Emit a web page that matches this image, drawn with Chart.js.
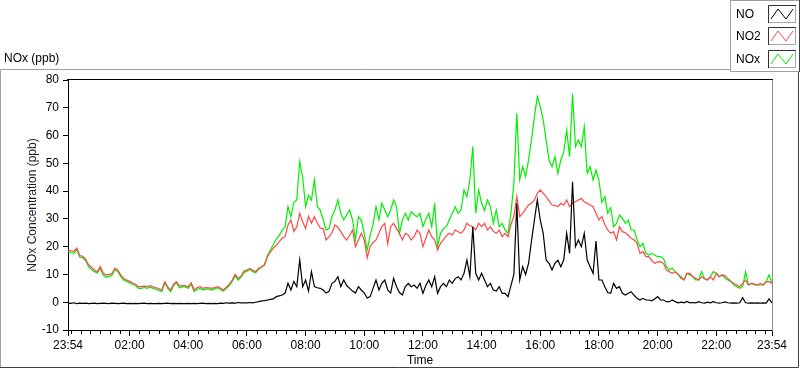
<!DOCTYPE html>
<html>
<head>
<meta charset="utf-8">
<script src="https://cdn.jsdelivr.net/npm/chart.js@4.4.1/dist/chart.umd.min.js"></script>
<style>
html,body{margin:0;padding:0;background:#fff;}
#wrap{position:relative;width:800px;height:369px;}
canvas{display:block;}
</style>
</head>
<body>
<div id="wrap"><canvas id="c" width="800" height="369"></canvas></div>
<script>
// ---- data (one sample every 6 minutes, starting 23:54) ----
const STEP_MIN = 6;
const seriesNames = ['NO', 'NO2', 'NOx'];
const seriesColors = ['#000000', '#ff4646', '#00f000'];

const NO = [
-0.3,-0.4,-0.2,-0.5,-0.3,-0.4,-0.3,-0.5,-0.4,-0.3,
-0.5,-0.4,-0.3,-0.4,-0.5,-0.3,-0.4,-0.5,-0.4,-0.3,
-0.5,-0.4,-0.5,-0.4,-0.5,-0.4,-0.3,-0.5,-0.4,-0.5,
-0.5,-0.4,-0.5,-0.4,-0.3,-0.5,-0.4,-0.5,-0.4,-0.5,
-0.5,-0.4,-0.5,-0.4,-0.5,-0.4,-0.3,-0.5,-0.4,-0.5,
-0.4,-0.5,-0.3,-0.4,-0.2,-0.3,-0.2,-0.3,-0.1,-0.2,
-0.2,
-0.2,-0.1,-0.2,0.0,0.2,0.5,0.6,0.8,1.0,1.2,
2.0,2.3,2.6,3.3,6.8,4.4,7.5,5.6,15.2,5.6,
8.0,4.0,11.0,5.6,5.2,5.0,4.4,3.3,3.9,6.8,
7.5,9.2,5.6,8.0,6.0,5.0,4.0,3.3,5.6,4.4,
3.3,1.5,2.0,5.0,8.0,4.4,6.8,8.0,4.4,3.3,
8.6,5.6,3.5,2.6,5.6,6.8,5.6,6.2,5.0,6.8,
3.2,6.0,8.0,5.6,9.2,3.2,5.6,6.8,5.6,8.0,
6.8,8.5,9.2,8.0,10.4,15.2,9.2,27.2,10.4,8.0,
10.4,8.0,5.6,6.8,4.4,4.0,5.6,3.2,3.2,2.0,
6.0,10.0,35.6,8.0,12.8,10.0,14.0,22.0,29.6,36.8,
29.6,24.8,15.2,14.0,11.6,14.0,15.2,12.8,15.2,24.8,
17.6,43.4,20.0,22.4,20.0,24.8,15.2,12.8,10.4,22.0,
8.0,8.0,5.6,3.5,3.2,6.8,5.0,5.6,3.2,2.6,
3.2,3.8,2.5,1.4,0.8,1.4,0.8,0.8,0.5,1.2,
2.0,0.8,0.8,0.2,0.2,0.8,0.2,-0.2,0.0,-0.2,
0.3,-0.2,-0.1,-0.2,0.2,-0.2,-0.3,0.0,-0.2,0.2,
-0.2,-0.3,-0.2,0.1,-0.2,-0.3,-0.2,-0.3,-0.2,1.6,
-0.2,-0.3,-0.2,-0.3,-0.2,-0.3,-0.2,-0.3,1.2,-0.3
];

const NO2 = [
18.8,18.5,18.3,19.5,16.8,16.5,15.5,13.5,12.5,11.6,
11.0,12.8,10.5,9.8,10.0,10.3,12.3,11.5,9.8,8.5,
8.0,7.5,6.9,6.5,5.6,5.6,5.8,5.6,6.0,5.5,
5.2,4.8,4.4,7.4,5.5,4.4,6.5,7.4,5.8,6.0,
6.0,5.5,7.0,4.4,5.2,5.6,5.0,5.3,5.2,5.0,
5.3,5.6,5.0,4.4,5.5,6.5,8.0,10.0,8.6,9.5,
11.2,
11.6,12.2,11.5,11.0,12.2,12.8,13.4,16.4,18.0,19.5,
20.5,21.8,23.0,23.6,27.8,29.6,25.5,27.2,32.0,29.0,
26.5,31.0,28.4,30.8,28.5,26.7,26.5,22.4,23.6,25.0,
27.8,27.0,25.4,23.6,22.4,24.0,26.0,20.0,22.4,24.8,
22.4,16.0,20.0,21.5,22.4,24.8,27.2,28.4,21.0,27.2,
28.4,26.5,24.8,22.4,24.8,24.2,22.4,23.6,26.0,24.8,
20.0,23.0,26.0,23.6,22.4,18.8,21.2,22.5,24.0,24.8,
24.2,26.0,25.4,24.8,26.0,28.4,27.5,27.2,26.0,28.4,
27.2,28.4,26.0,27.2,25.5,24.8,26.0,23.6,24.8,23.6,
28.0,31.0,38.0,30.8,32.0,33.5,35.0,35.6,36.8,39.2,
40.4,39.2,38.0,36.5,35.0,34.8,34.4,35.6,35.0,36.8,
34.4,35.6,36.2,36.8,37.4,36.2,35.6,35.0,34.4,32.0,
29.6,30.8,28.0,26.0,24.8,25.4,22.4,27.2,25.4,25.0,
24.0,23.0,22.4,21.2,17.6,18.2,16.4,16.4,15.0,14.0,
14.5,14.6,14.0,11.6,11.0,10.4,11.0,10.0,8.6,8.0,
10.4,10.4,9.2,8.6,8.0,9.2,8.5,8.0,9.2,8.0,
10.4,9.2,9.8,9.5,8.5,7.5,6.8,6.2,5.6,6.8,
8.0,6.2,6.8,6.5,6.2,6.8,6.2,7.4,7.4,6.8
];

const NOx = [
18.2,17.8,17.6,19.0,16.2,16.0,15.0,12.8,11.8,11.0,
10.5,12.2,9.8,9.0,9.3,9.8,11.8,11.0,9.2,8.0,
7.5,7.0,6.4,6.0,5.0,5.0,5.3,5.0,5.5,5.0,
4.6,4.2,3.8,7.0,5.0,3.8,6.0,7.0,5.2,5.5,
5.5,5.0,6.5,3.8,4.6,5.0,4.4,4.8,4.7,4.4,
4.8,5.2,4.5,4.0,5.0,6.0,7.5,9.5,8.0,9.0,
10.6,
11.2,11.8,11.0,10.6,11.9,12.6,13.6,16.8,18.8,20.8,
22.7,24.0,26.0,27.0,34.4,30.8,36.0,36.8,50.6,45.0,
34.4,38.5,36.8,44.0,34.4,33.2,29.6,26.0,26.6,31.0,
33.2,36.8,32.0,29.6,31.5,33.2,29.6,22.4,30.8,29.6,
24.8,18.8,24.0,28.0,34.4,29.6,35.6,33.2,30.8,33.2,
36.8,34.4,24.8,29.6,32.0,29.6,32.6,31.5,30.8,32.0,
27.2,30.0,32.0,27.2,35.6,20.0,24.8,26.5,27.2,29.6,
32.0,34.4,32.0,33.2,40.4,38.0,44.0,56.0,32.0,40.4,
35.6,33.0,36.8,34.4,28.4,33.2,27.2,28.4,26.0,24.8,
32.0,42.8,68.0,44.0,48.8,45.2,51.2,58.4,66.8,74.0,
70.4,65.6,58.4,51.2,48.8,52.4,46.4,51.2,54.0,62.0,
52.4,75.0,56.0,58.4,56.0,63.2,46.4,48.8,44.0,47.6,
44.0,36.0,38.0,32.0,34.0,27.2,28.4,31.4,30.2,28.4,
29.5,26.0,26.0,22.4,20.0,21.2,17.6,17.0,17.6,17.0,
16.4,16.4,15.8,12.8,11.6,12.2,11.0,10.0,9.2,8.0,
10.4,9.8,9.2,8.0,8.0,11.0,8.5,8.0,9.2,11.0,
10.4,9.2,9.8,8.6,8.0,7.4,6.2,5.6,5.0,5.6,
11.0,6.2,6.8,6.2,6.2,6.2,6.2,7.4,9.8,6.8
];

// x tick positions (minutes after 23:54) and their labels
const xTickValues = [0, 126, 246, 366, 486, 606, 726, 846, 966, 1086, 1206, 1326, 1440];
const xTickLabels = ['23:54', '02:00', '04:00', '06:00', '08:00', '10:00', '12:00', '14:00', '16:00', '18:00', '20:00', '22:00', '23:54'];
const yMin = -10, yMax = 80, yStep = 10;

const chartTitle = 'NOx (ppb)';
const yTitle = 'NOx Concentration (ppb)';
const xTitle = 'Time';

// ---- build ----
const series = [NO, NO2, NOx];
const toPoints = arr => arr.map((v, i) => ({ x: i * STEP_MIN, y: v }));

const FONT = 'Liberation Sans, Arial, sans-serif';

const decorPlugin = {
  id: 'decor',
  afterDraw(chart) {
    const ctx = chart.ctx;
    const ca = chart.chartArea;
    const xs = chart.scales.x;
    ctx.save();
    // minor x ticks every 20 minutes
    ctx.strokeStyle = '#000';
    ctx.lineWidth = 1;
    ctx.beginPath();
    for (let t = 6; t <= 1440; t += 20) {
      if (xTickValues.includes(t)) continue;
      const px = Math.round(xs.getPixelForValue(t)) + 0.5;
      ctx.moveTo(px, ca.bottom);
      ctx.lineTo(px, ca.bottom + 4);
    }
    ctx.stroke();
    // plot frame: top black, right grey
    ctx.beginPath();
    ctx.strokeStyle = '#000';
    ctx.moveTo(Math.round(ca.left) - 1, Math.round(ca.top) - 0.5);
    ctx.lineTo(Math.round(ca.right) + 1, Math.round(ca.top) - 0.5);
    ctx.stroke();
    ctx.beginPath();
    ctx.strokeStyle = '#8c8c8c';
    ctx.moveTo(Math.round(ca.right) + 0.5, Math.round(ca.top));
    ctx.lineTo(Math.round(ca.right) + 0.5, Math.round(ca.bottom) + 1);
    ctx.stroke();

    // outer frame
    ctx.strokeStyle = '#a0a0a0';
    ctx.beginPath();
    ctx.moveTo(0.5, 368);
    ctx.lineTo(0.5, 69.5);
    ctx.lineTo(731, 69.5);
    ctx.stroke();
    ctx.strokeStyle = '#404040';
    ctx.beginPath();
    ctx.moveTo(0, 367.5);
    ctx.lineTo(798.5, 367.5);
    ctx.lineTo(798.5, 72);
    ctx.stroke();

    // legend box
    ctx.fillStyle = '#fff';
    ctx.fillRect(731, 0, 69, 72);
    ctx.strokeStyle = '#a0a0a0';
    ctx.beginPath();
    ctx.moveTo(730.5, 0);
    ctx.lineTo(730.5, 71.5);
    ctx.lineTo(799, 71.5);
    ctx.moveTo(730.5, 0.5);
    ctx.lineTo(799, 0.5);
    ctx.stroke();
    ctx.strokeStyle = '#404040';
    ctx.beginPath();
    ctx.moveTo(799.5, 0);
    ctx.lineTo(799.5, 72);
    ctx.stroke();

    const rows = [14, 36, 59];
    ctx.font = '12px ' + FONT;
    ctx.textBaseline = 'middle';
    ctx.textAlign = 'left';
    chart.data.datasets.forEach((ds, k) => {
      const cy = rows[k];
      ctx.fillStyle = '#000';
      ctx.fillText(ds.label, 736, cy + 0.5);
      const bx = 768, by = cy - 9, bw = 28, bh = 18;
      ctx.fillStyle = '#fff';
      ctx.fillRect(bx, by, bw, bh);
      ctx.strokeStyle = '#303030';
      ctx.beginPath();
      ctx.moveTo(bx + 0.5, by + bh);
      ctx.lineTo(bx + 0.5, by + 0.5);
      ctx.lineTo(bx + bw, by + 0.5);
      ctx.stroke();
      ctx.strokeStyle = '#a8a8a8';
      ctx.beginPath();
      ctx.moveTo(bx + bw - 0.5, by + 1);
      ctx.lineTo(bx + bw - 0.5, by + bh - 0.5);
      ctx.lineTo(bx + 1, by + bh - 0.5);
      ctx.stroke();
      ctx.strokeStyle = ds.borderColor;
      ctx.beginPath();
      ctx.moveTo(bx + 3, by + bh - 4);
      ctx.lineTo(bx + 10, by + 4);
      ctx.lineTo(bx + 18, by + bh - 4);
      ctx.lineTo(bx + 25, by + 4);
      ctx.stroke();
    });

    // chart title
    ctx.fillStyle = '#000';
    ctx.font = '12px ' + FONT;
    ctx.textBaseline = 'middle';
    ctx.fillText(chartTitle, 4, 58.5);
    ctx.restore();
  }
};

new Chart(document.getElementById('c'), {
  type: 'line',
  data: {
    datasets: series.map((arr, k) => ({
      label: seriesNames[k],
      data: toPoints(arr),
      borderColor: seriesColors[k],
      backgroundColor: seriesColors[k],
      borderWidth: 1.2,
      pointRadius: 0,
      tension: 0,
      fill: false
    }))
  },
  options: {
    responsive: false,
    animation: false,
    devicePixelRatio: 1,
    layout: { padding: { top: 80, right: 28, bottom: 0, left: 0 } },
    plugins: { legend: { display: false }, tooltip: { enabled: false }, title: { display: false } },
    scales: {
      x: {
        type: 'linear',
        min: 0,
        max: 1440,
        afterFit(s) { s.height = 39; },
        afterBuildTicks(s) { s.ticks = xTickValues.map(v => ({ value: v })); },
        ticks: {
          autoSkip: false,
          maxRotation: 0,
          padding: 2,
          color: '#000',
          font: { family: FONT, size: 12 },
          callback: v => xTickLabels[xTickValues.indexOf(v)]
        },
        grid: { drawOnChartArea: false, tickLength: 6, tickColor: '#000', tickWidth: 1 },
        border: { display: true, color: '#000', width: 1 },
        title: { display: true, text: xTitle, color: '#000', font: { family: FONT, size: 12 }, padding: { top: 0, bottom: 1 } }
      },
      y: {
        min: yMin,
        max: yMax,
        afterFit(s) { s.width = 68; },
        ticks: { stepSize: yStep, padding: 4, color: '#000', font: { family: FONT, size: 12 } },
        grid: { drawOnChartArea: false, tickLength: 5, tickColor: '#000', tickWidth: 1 },
        border: { display: true, color: '#000', width: 1 },
        title: { display: true, text: yTitle, color: '#1a1a30', font: { family: FONT, size: 12 }, padding: { top: 25, bottom: 0 } }
      }
    }
  },
  plugins: [decorPlugin]
});
</script>
</body>
</html>
